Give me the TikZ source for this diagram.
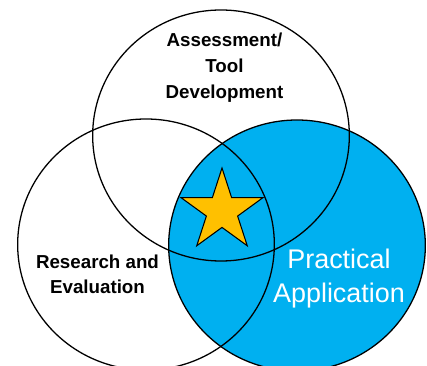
\documentclass[tikz,border=0pt]{standalone}
\usepackage{fontspec}
\setmainfont{Liberation Sans}
\usetikzlibrary{shapes.geometric}

\definecolor{practiceblue}{HTML}{00B0F0}
\definecolor{stargold}{HTML}{FFC000}

\begin{document}
\begin{tikzpicture}[
            area/.style={ellipse, draw, line width=1.1pt, minimum width=7.7cm, minimum height=7.53cm, inner sep=0pt},
            label/.style={align=center, inner sep=0pt, font=\bfseries\fontsize{16}{21.8}\selectfont}
        ]
            \useasboundingbox (0,0) rectangle (12.81,-10.98);

            % blue area goes first so every outline sits on top of it
            \node[area, fill=practiceblue] (practice) at (8.91,-7.365) {};
            \node[area] (assess) at (6.63,-4.065) {};
            \node[area] (research) at (4.38,-7.335) {};

            \node[star, star points=5, star point ratio=2.618, minimum size=2.58cm, inner sep=0pt,
                  draw, line width=0.9pt, fill=stargold] (core) at (6.66,-6.33) {};

            \node[label] (assesstext) at (6.735,-2.03) {Assessment/\\Tool\\Development};
            \node[label] (researchtext) at (2.925,-8.23) {Research and\\Evaluation};
            \node[align=center, inner sep=0pt, text=white, font=\fontsize{23}{29}\selectfont]
                (practicetext) at (10.17,-8.35) {Practical\\Application};
        \end{tikzpicture}
\end{document}
